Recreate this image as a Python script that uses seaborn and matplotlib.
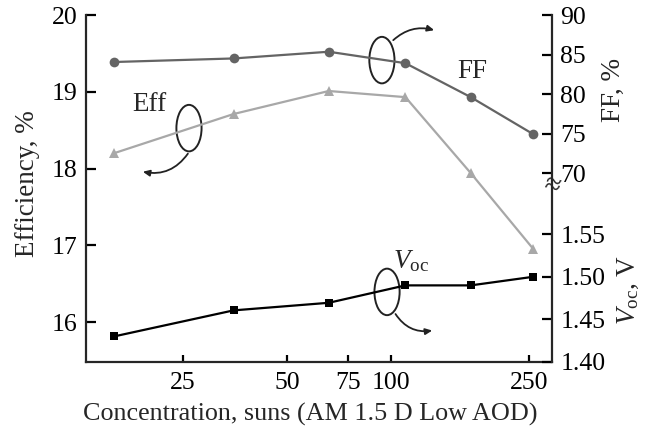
import matplotlib
matplotlib.use("Agg")
import matplotlib.pyplot as plt
from matplotlib.patches import Ellipse, FancyArrowPatch
from matplotlib.ticker import FixedLocator, FixedFormatter, NullLocator
import seaborn as sns
import pandas as pd

# Measured cell performance versus concentration
concentration = [15.8, 35, 66, 110, 170, 258]
efficiency = [18.20, 18.71, 19.01, 18.93, 17.94, 16.95]
fill_factor = [84.05, 84.5, 85.35, 83.9, 79.6, 74.9]
voc = [1.430, 1.4605, 1.4694, 1.4898, 1.4898, 1.4999]

x_ticks = [25, 50, 75, 100, 250]
eff_ticks = [16, 17, 18, 19, 20]
ff_ticks = [70, 75, 80, 85, 90]
voc_ticks = [1.40, 1.45, 1.50, 1.55]

df = pd.DataFrame({"conc": concentration, "eff": efficiency,
                   "ff": fill_factor, "voc": voc})

sns.set_theme(style="ticks")
plt.rcParams["font.family"] = ["Liberation Serif", "DejaVu Serif"]
plt.rcParams["mathtext.fontset"] = "custom"
plt.rcParams["mathtext.rm"] = "Liberation Serif"
plt.rcParams["mathtext.it"] = "Liberation Serif:italic"

FS_TICK = 18.5
FS_LAB = 19.5
fig = plt.figure(figsize=(6.45, 4.30), dpi=100)
ax = fig.add_axes([86 / 645, 1 - 362 / 430, 466 / 645, 347 / 430])
ax_ff = ax.twinx()
ax_voc = ax.twinx()

sns.lineplot(data=df, x="conc", y="eff", ax=ax, color="#a8a8a8", marker="^",
             markersize=7.5, markeredgewidth=0, linewidth=1.6)
sns.lineplot(data=df, x="conc", y="ff", ax=ax_ff, color="#646464", marker="o",
             markersize=7, markeredgewidth=0, linewidth=1.6)
sns.lineplot(data=df, x="conc", y="voc", ax=ax_voc, color="black", marker="s",
             markersize=6, markeredgewidth=0, linewidth=1.6)

ax.set_xscale("log")
ax.set_xlim(13.1, 292)
ax.set_ylim(15.48, 20)
ax_ff.set_ylim(46.08, 90)
ax_voc.set_ylim(1.40, 1.8067)

for a in (ax, ax_ff, ax_voc):
    a.set_xlabel("")
    a.set_ylabel("")
    a.spines["top"].set_visible(False)

ax.spines["right"].set_visible(False)
ax_ff.spines["right"].set_visible(False)
for a in (ax_ff, ax_voc):
    a.spines["left"].set_visible(False)
    a.spines["bottom"].set_visible(False)
for s in ("left", "bottom"):
    ax.spines[s].set_linewidth(1.6)
ax_voc.spines["right"].set_linewidth(1.6)

ax.xaxis.set_major_locator(FixedLocator(x_ticks))
ax.xaxis.set_major_formatter(FixedFormatter([str(t) for t in x_ticks]))
ax.xaxis.set_minor_locator(NullLocator())
ax.set_yticks(eff_ticks)
ax_ff.set_yticks(ff_ticks)
ax_voc.set_yticks(voc_ticks)
ax_voc.set_yticklabels([f"{t:.2f}" for t in voc_ticks])

ax.tick_params(axis="both", direction="in", length=7, width=1.6,
               labelsize=FS_TICK, pad=6, colors="black")
ax.tick_params(axis="x", length=5, pad=7)
for a in (ax_ff, ax_voc):
    a.tick_params(axis="y", direction="in", length=7, width=1.6,
                  labelsize=FS_TICK, pad=6, colors="black")

# axis titles
ax.text(-0.125, 0.515, "Efficiency, %", transform=ax.transAxes, rotation=90,
        ha="center", va="center", fontsize=FS_LAB)
ax.text(0.482, -0.150, "Concentration, suns (AM 1.5 D Low AOD)",
        transform=ax.transAxes, ha="center", va="center", fontsize=18.8)
ax.text(1.132, 0.784, "FF, %", transform=ax.transAxes, rotation=90,
        ha="center", va="center", fontsize=FS_LAB)
ax.text(1.165, 0.207, r"$V_{\mathrm{oc}}$, V", transform=ax.transAxes,
        rotation=90, ha="center", va="center", fontsize=FS_LAB)

# axis break on the right spine
ax.text(1.0, 0.508, "≈", transform=ax.transAxes, ha="center", va="center",
        fontsize=21, rotation=-15,
        bbox=dict(facecolor="white", edgecolor="none", pad=0.0))

# series labels with ellipses and pointing arrows
ax.text(0.135, 0.741, "Eff", transform=ax.transAxes, ha="center",
        va="center", fontsize=FS_LAB)
ax.text(0.830, 0.836, "FF", transform=ax.transAxes, ha="center",
        va="center", fontsize=FS_LAB)
ax.text(0.697, 0.292, r"$V_{\mathrm{oc}}$", transform=ax.transAxes,
        ha="center", va="center", fontsize=FS_LAB)

for cx, cy in [(0.221, 0.674), (0.635, 0.870), (0.646, 0.202)]:
    ax.add_patch(Ellipse((cx, cy), 0.054, 0.134, transform=ax.transAxes,
                         fill=False, edgecolor="#222222", linewidth=1.4))

arrows = [((0.222, 0.607), (0.116, 0.550), -0.35),
          ((0.655, 0.922), (0.753, 0.954), -0.3),
          ((0.661, 0.145), (0.749, 0.092), 0.35)]
for start, end, rad in arrows:
    ax.add_patch(FancyArrowPatch(start, end, transform=ax.transAxes,
                                 connectionstyle=f"arc3,rad={rad}",
                                 arrowstyle="-|>,head_length=4,head_width=1.8",
                                 color="#222222", linewidth=1.3))

fig.savefig("out.png", dpi=100)
